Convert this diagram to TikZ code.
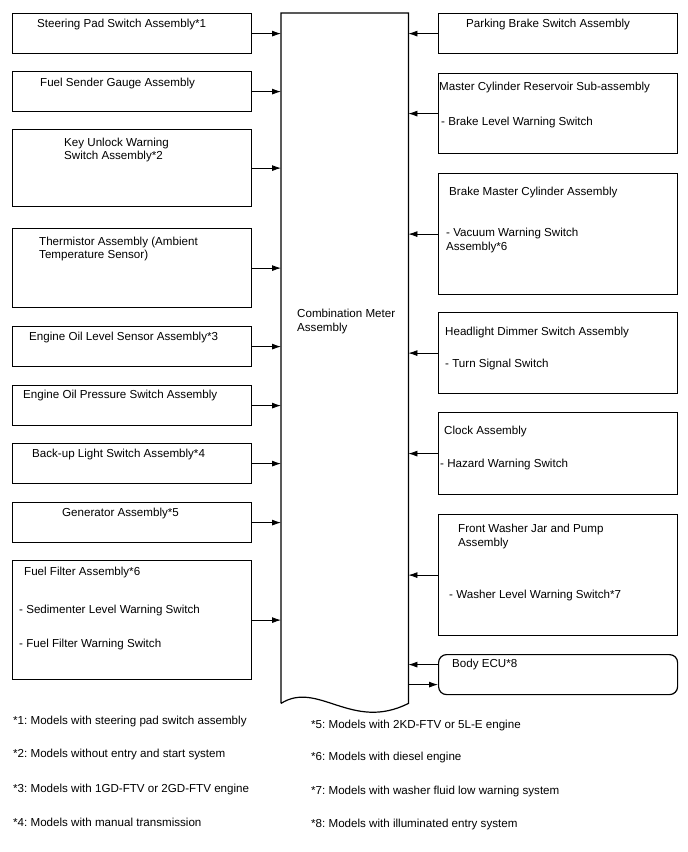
\documentclass[tikz,border=0pt]{standalone}
\usepackage{fontspec}
\setmainfont{Liberation Sans}
\usetikzlibrary{arrows.meta}
\frenchspacing
\begin{document}
\begin{tikzpicture}[x=1pt,y=-1pt,
    box/.style={draw, line width=1.2pt, anchor=north west, minimum width=239, inner sep=0pt},
    ecubox/.style={box, rounded corners=8pt},
    lbl/.style={anchor=base west, inner sep=0pt, font=\fontsize{11.6}{13}\selectfont},
    arr/.style={-{Latex[length=9pt,width=6pt]}, line width=0.8pt}]
    \useasboundingbox (0,0) rectangle (688,852);
    % meter
        \node[anchor=north west, minimum width=127, minimum height=690, inner sep=0pt] (meter) at (281,13) {};
        \draw[line width=1.2pt] (meter.south west) -- (meter.north west) -- (meter.north east) -- (meter.south east)
            .. controls (352,732) and (318,680) .. (meter.south west);
        \node[lbl] (mt1) at (297,317) {Combination Meter};
        \node[lbl] (mt2) at (297,331) {Assembly};
    % inputs, left
        \foreach \n/\y/\h in {steer/13/40,fuelsend/71/40,keyunlock/129/77,thermistor/228/79,oillevel/326/40,oilpress/385/40,backup/443/40,generator/502/40,fuelfilter/560/119}{
            \node[box, minimum height=\h] (\n) at (12,\y) {};
            \draw[arr] (\n.east) -- (\n.east -| meter.west);
        }
    % inputs, right
        \foreach \n/\y/\h in {parking/13/40,mastercyl/73/80,brakemaster/173/121,headlight/312/81,clock/412/82,washer/514/121}{
            \node[box, minimum width=239, minimum height=\h] (\n) at (438,\y) {};
            \draw[arr] (\n.west) -- (\n.west -| meter.east);
        }
        \node[ecubox, minimum height=40] (ecu) at (438,654) {};
        \draw[arr] ([yshift=10pt]ecu.west) -- ([yshift=10pt]ecu.west -| meter.east);
        \draw[arr] ([yshift=-10pt]ecu.west -| meter.east) -- ([yshift=-10pt]ecu.west);
    % labels
        \foreach \x/\y/\t [count=\i] in {37/27/{Steering Pad Switch Assembly*1},40/86/{Fuel Sender Gauge Assembly},
            64/146/{Key Unlock Warning},64/159/{Switch Assembly*2},
            39/245/{Thermistor Assembly (Ambient},39/258/{Temperature Sensor)},
            29/340/{Engine Oil Level Sensor Assembly*3},23/398/{Engine Oil Pressure Switch Assembly},
            32/457/{Back-up Light Switch Assembly*4},62/516/{Generator Assembly*5},
            24/575/{Fuel Filter Assembly*6},19/613/{- Sedimenter Level Warning Switch},19/647/{- Fuel Filter Warning Switch}}{
            \node[lbl] (l\i) at (\x,\y) {\t};
        }
        \foreach \x/\y/\t [count=\i] in {466/27/{Parking Brake Switch Assembly},
            439/90/{Master Cylinder Reservoir Sub-assembly},441/125/{- Brake Level Warning Switch},
            449/195/{Brake Master Cylinder Assembly},446/236/{- Vacuum Warning Switch},446/250/{Assembly*6},
            445/335/{Headlight Dimmer Switch Assembly},445/367/{- Turn Signal Switch},
            444/434/{Clock Assembly},440/467/{- Hazard Warning Switch},
            458/532/{Front Washer Jar and Pump},458/546/{Assembly},449/598/{- Washer Level Warning Switch*7},
            452/667/{Body ECU*8}}{
            \node[lbl] (r\i) at (\x,\y) {\t};
        }
    % notes
        \foreach \x/\y/\t [count=\i] in {13/724/{*1: Models with steering pad switch assembly},
            13/757/{*2: Models without entry and start system},
            13/792/{*3: Models with 1GD-FTV or 2GD-FTV engine},
            13/826/{*4: Models with manual transmission},
            311/728/{*5: Models with 2KD-FTV or 5L-E engine},
            311/760/{*6: Models with diesel engine},
            311/794/{*7: Models with washer fluid low warning system},
            311/827/{*8: Models with illuminated entry system}}{
            \node[lbl] (n\i) at (\x,\y) {\t};
        }
\end{tikzpicture}
\end{document}
